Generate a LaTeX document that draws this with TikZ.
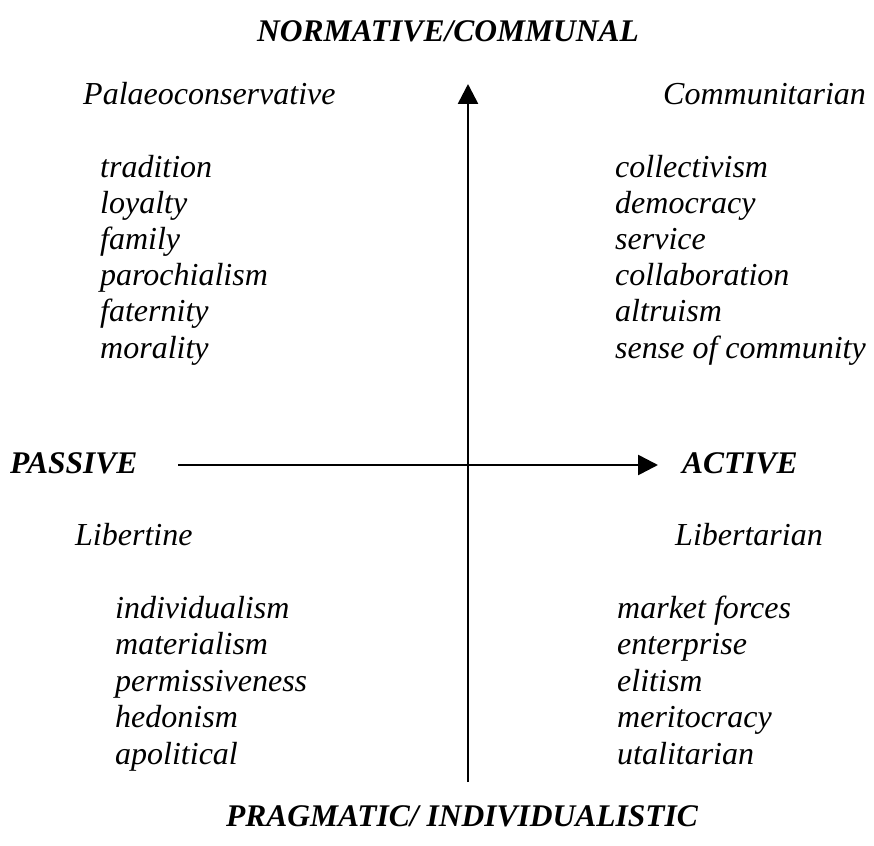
\documentclass[tikz,border=0pt]{standalone}
\usepackage{fontspec}
\setmainfont{Liberation Serif}
\usetikzlibrary{arrows.meta,positioning}

\begin{document}
\begin{tikzpicture}
    [x=1pt, y=-1pt,
     every node/.style={inner sep=0pt, anchor=base west, font=\fontsize{32}{36}\selectfont\itshape},
     axislabel/.style={font=\fontsize{31.5}{36}\selectfont\bfseries\itshape},
     axis/.style={draw=black, line width=2.6pt, -{Triangle[length=20pt,width=20pt]}},
    ]
    \useasboundingbox (0,0) rectangle (874,845);

    % axes
    \coordinate (south) at (468,782);
    \coordinate (north) at (468,84);
    \coordinate (west) at (178,465);
    \coordinate (east) at (658,465);
    \draw [axis] (south) -- (north);
    \draw [axis] (west) -- (east);

    % axis labels
    \node (normative) [axislabel, anchor=base] at (448,42) {NORMATIVE/COMMUNAL};
    \node (pragmatic) [axislabel, anchor=base] at (462,826) {PRAGMATIC/ INDIVIDUALISTIC};
    \node (passive) [axislabel] at (10,473) {PASSIVE};
    \node (active) [axislabel] at (682,473) {ACTIVE};

    % quadrant headings
    \node (palaeo) at (83,105) {Palaeoconservative};
    \node (communitarian) at (663,105) {Communitarian};
    \node (libertine) at (75,545) {Libertine};
    \node (libertarian) at (675,545) {Libertarian};

    % quadrant word lists
    \foreach \word [count=\i from 0] in {tradition, loyalty, family, parochialism, faternity, morality}
        \node (palaeo-\i) at (100,177+36.2*\i) {\word};
    \foreach \word [count=\i from 0] in {collectivism, democracy, service, collaboration, altruism, sense of community}
        \node (communitarian-\i) at (615,177+36.2*\i) {\word};
    \foreach \word [count=\i from 0] in {individualism, materialism, permissiveness, hedonism, apolitical}
        \node (libertine-\i) at (115,618+36.5*\i) {\word};
    \foreach \word [count=\i from 0] in {market forces, enterprise, elitism, meritocracy, utalitarian}
        \node (libertarian-\i) at (617,618+36.5*\i) {\word};

\end{tikzpicture}
\end{document}
